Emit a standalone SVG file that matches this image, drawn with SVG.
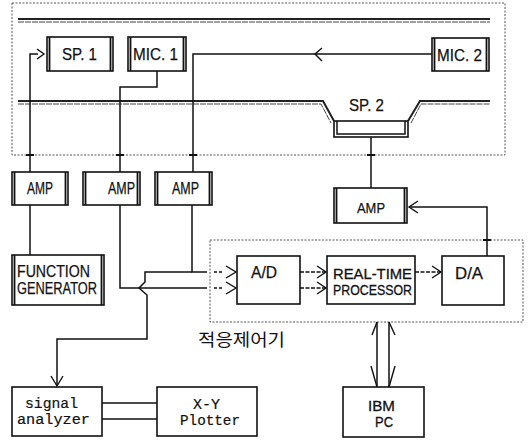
<svg xmlns="http://www.w3.org/2000/svg" width="529" height="440" viewBox="0 0 529 440">
<style>
.bg{fill:#fff}
.enc{fill:none;stroke:#555;stroke-width:1;stroke-dasharray:2 1.5}
.box{fill:#fff;stroke:#111;stroke-width:1.6}
.side{stroke:#111;stroke-width:1.8}
.ln{fill:none;stroke:#111;stroke-width:1.5}
.rail{fill:none;stroke:#222;stroke-width:2}
.rail2{fill:none;stroke:#444;stroke-width:1;stroke-dasharray:6 1}
.chev{fill:none;stroke:#111;stroke-width:1.4}
.tick{stroke:#111;stroke-width:2}
.t{font-family:"Liberation Sans",Arial,sans-serif;font-size:16.5px;fill:#111;stroke:#111;stroke-width:0.25}
.t2{font-family:"Liberation Sans",Arial,sans-serif;font-size:14.5px;fill:#111;stroke:#111;stroke-width:0.3}
.m{font-family:"Liberation Mono","Courier New",monospace;font-size:14.5px;fill:#111;stroke:#111;stroke-width:0.2}
.k{font-family:"Noto Sans CJK KR","Noto Sans",sans-serif;font-size:17px;fill:#111}
</style>
<rect class="bg" x="0" y="0" width="529" height="440"/>
<g id="enclosures">
<rect class="enc" x="12" y="3" width="493" height="152"/>
<rect class="enc" x="210" y="240" width="313" height="82"/>
</g>
<g id="rails">
<path class="rail" d="M18,19 H490"/>
<path class="rail2" d="M18,22 H490"/>
<path class="rail" d="M18,101 H323 L334,121 M408,121 L420,101 H490"/>
<path class="rail2" d="M18,104 H321 L331,123 M411,123 L421,104 H490"/>
</g>
<g id="connectors">
<path class="ln" d="M30,255 V205 M30,172 V54 H38"/>
<path class="chev" d="M37,49 L44,54 L37,59"/>
<path class="ln" d="M157,71 V87 H120 V172"/>
<path class="ln" d="M432,54 H193 V172"/>
<path class="chev" d="M322,48 L315,54 L322,61"/>
<path class="ln" d="M192,205 V272 H207"/>
<path class="ln" d="M192,272 H145 V282 L139,288 L147,295 V339 H57 V386"/>
<path class="chev" d="M51,376 L57,386 L63,376"/>
<path class="ln" d="M120,205 V288 H207"/>
<path class="ln" d="M214,272 H224 M214,288 H224" stroke-dasharray="3 2"/>
<path class="chev" d="M226,266 L236,272 L226,278 M226,282 L236,288 L226,294"/>
<path class="ln" d="M300,272 H325 M300,288 H325" stroke-dasharray="4 1.5"/>
<path class="chev" d="M317,266 L326,272 L317,278 M317,282 L326,288 L317,294"/>
<path class="ln" d="M415,272 H440" stroke-dasharray="4 1.5"/>
<path class="chev" d="M432,266 L441,272 L432,278"/>
<path class="ln" d="M487,256 V207 H410"/>
<path class="chev" d="M418,201 L409,207 L418,213"/>
<path class="ln" d="M371,137 V188"/>
<path class="ln" d="M377,322 V387 M389,322 V387" stroke-width="1.8"/>
<path class="chev" d="M372,335 L377,322 M395,335 L389,322 M371,366 L377,387 M395,366 L389,387"/>
<path class="ln" d="M102,403 H157 M102,419 H157"/>
<path class="tick" d="M26,155 H34 M116,155 H124 M189,155 H197 M367,155 H375 M483,240 H491"/>
</g>
<g id="sp1">
<rect class="box" x="47" y="37" width="66" height="34"/>
<path class="side" d="M49.5,37 V71 M110.5,37 V71"/>
<text class="t" x="62" y="60" textLength="35" lengthAdjust="spacingAndGlyphs">SP. 1</text>
</g>
<g id="mic1">
<rect class="box" x="128" y="37" width="58" height="34"/>
<path class="side" d="M130.5,37 V71 M183.5,37 V71"/>
<text class="t" x="133" y="60" textLength="45" lengthAdjust="spacingAndGlyphs">MIC. 1</text>
</g>
<g id="mic2">
<rect class="box" x="432" y="38" width="57" height="33"/>
<path class="side" d="M434.5,38 V71 M486.5,38 V71"/>
<text class="t" x="437" y="61" textLength="45" lengthAdjust="spacingAndGlyphs">MIC. 2</text>
</g>
<g id="sp2">
<rect class="box" x="334" y="121" width="74" height="16"/>
<path class="ln" d="M337,121 V134 H405 V121" stroke-width="1"/>
<text class="t" x="349" y="111" textLength="35" lengthAdjust="spacingAndGlyphs">SP. 2</text>
</g>
<g id="amp1">
<rect class="box" x="12" y="172" width="56" height="33"/>
<path class="side" d="M14.5,172 V205 M65.5,172 V205"/>
<text class="t" x="27" y="194" textLength="26" lengthAdjust="spacingAndGlyphs">AMP</text>
</g>
<g id="amp2">
<rect class="box" x="83" y="172" width="57" height="33"/>
<path class="side" d="M85.5,172 V205 M137.5,172 V205"/>
<text class="t" x="108" y="194" textLength="27" lengthAdjust="spacingAndGlyphs">AMP</text>
</g>
<g id="amp3">
<rect class="box" x="155" y="172" width="57" height="33"/>
<path class="side" d="M157.5,172 V205 M209.5,172 V205"/>
<text class="t" x="172" y="194" textLength="27" lengthAdjust="spacingAndGlyphs">AMP</text>
</g>
<g id="amp4">
<rect class="box" x="334" y="188" width="73" height="35"/>
<path class="side" d="M336.5,188 V223 M404.5,188 V223"/>
<text class="t" x="357" y="213" textLength="28" lengthAdjust="spacingAndGlyphs" style="font-size:15.5px">AMP</text>
</g>
<g id="function-generator">
<rect class="box" x="12" y="255" width="92" height="50"/>
<path class="side" d="M14.5,255 V305 M101.5,255 V305"/>
<text class="t"><tspan x="17" y="277" textLength="73" lengthAdjust="spacingAndGlyphs">FUNCTION</tspan><tspan x="17" y="294" textLength="80" lengthAdjust="spacingAndGlyphs">GENERATOR</tspan></text>
</g>
<g id="ad">
<rect class="box" x="237" y="256" width="63" height="48"/>
<text class="t" x="251" y="278" textLength="26" lengthAdjust="spacingAndGlyphs">A/D</text>
</g>
<g id="rtp">
<rect class="box" x="327" y="256" width="88" height="48"/>
<text class="t2"><tspan x="333" y="279" textLength="79" lengthAdjust="spacingAndGlyphs">REAL-TIME</tspan><tspan x="333" y="295" textLength="79" lengthAdjust="spacingAndGlyphs">PROCESSOR</tspan></text>
</g>
<g id="da">
<rect class="box" x="442" y="256" width="62" height="49"/>
<text class="t" x="455" y="279" textLength="28" lengthAdjust="spacingAndGlyphs">D/A</text>
</g>
<g id="label-controller">
<text class="k" x="198" y="346" textLength="87" lengthAdjust="spacingAndGlyphs">적응제어기</text>
</g>
<g id="signal-analyzer">
<rect class="box" x="12" y="387" width="90" height="49"/>
<text class="m"><tspan x="25" y="408" textLength="53" lengthAdjust="spacingAndGlyphs">signal</tspan><tspan x="17" y="424" textLength="73" lengthAdjust="spacingAndGlyphs">analyzer</tspan></text>
</g>
<g id="xy-plotter">
<rect class="box" x="157" y="387" width="100" height="49"/>
<text class="m"><tspan x="193" y="409" textLength="27" lengthAdjust="spacingAndGlyphs">X-Y</tspan><tspan x="180" y="425" textLength="60" lengthAdjust="spacingAndGlyphs">Plotter</tspan></text>
</g>
<g id="ibm-pc">
<rect class="box" x="343" y="387" width="81" height="50"/>
<text class="t2"><tspan x="368" y="411" textLength="27" lengthAdjust="spacingAndGlyphs">IBM</tspan><tspan x="375" y="427" textLength="18" lengthAdjust="spacingAndGlyphs">PC</tspan></text>
</g>
</svg>
